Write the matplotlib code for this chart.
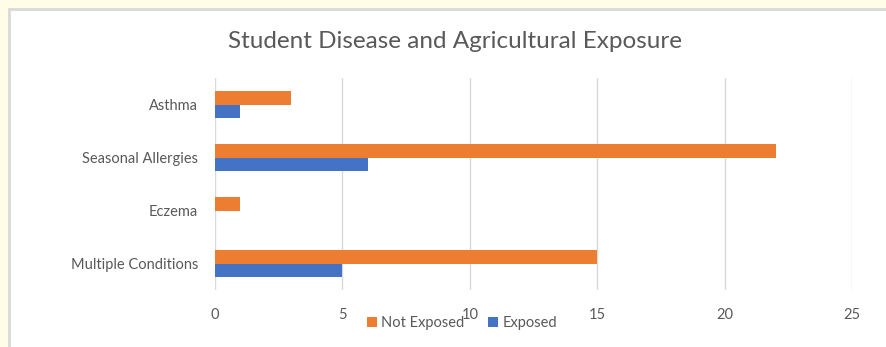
import matplotlib
matplotlib.use("Agg")
import matplotlib.pyplot as plt
import numpy as np
from matplotlib.patches import Rectangle

categories = ["Asthma", "Seasonal Allergies", "Eczema", "Multiple Conditions"]
not_exposed = [3, 22, 1, 15]
exposed = [1, 6, 0, 5]
series_names = ["Not Exposed", "Exposed"]
xticks = [0, 5, 10, 15, 20, 25]

plt.rcParams['font.family'] = ['Lato', 'DejaVu Sans']
txt = '#595959'
orange = '#ED7D31'
blue = '#4472C4'

fig = plt.figure(figsize=(8.87, 3.47), dpi=100)
fig.patch.set_facecolor('#FFFCE8')
# white chart area with light border
fig.patches.append(Rectangle((9/887, -0.05), 1.05, 1.05 - 9/347, transform=fig.transFigure,
                             facecolor='white', edgecolor='#D9D9D9', linewidth=2, zorder=-5))

ax = fig.add_axes([215/887, 57/347, 637/887, 212/347])
ax.set_zorder(2)
ax.set_facecolor('white')
y = np.arange(len(categories))
h = 0.255
ax.barh(y - h/2, not_exposed, height=h, color=orange, label=series_names[0], zorder=2)
ax.barh(y + h/2, exposed, height=h, color=blue, label=series_names[1], zorder=2)
ax.set_ylim(len(categories) - 0.5, -0.5)
ax.set_xlim(0, 25)
ax.set_xticks(xticks)
ax.set_yticks(y)
ax.set_yticklabels(categories)
ax.grid(axis='x', color='#D9D9D9', linewidth=1, zorder=0)
ax.set_axisbelow(True)
for s in ax.spines.values():
    s.set_visible(False)
ax.tick_params(axis='x', length=0, pad=13, labelsize=10.5, labelcolor=txt)
ax.tick_params(axis='y', length=0, pad=12, labelsize=10.5, labelcolor=txt)

fig.text(455/887, 1 - 42/347, "Student Disease and Agricultural Exposure",
         ha='center', va='center', fontsize=17.5, color=txt)

leg = fig.legend(loc='center', bbox_to_anchor=(462/887, 1 - 323/347), ncol=2,
                 frameon=False, fontsize=10.5, labelcolor=txt, handlelength=0.7,
                 handleheight=0.7, handletextpad=0.3, columnspacing=1.6)
leg.set_zorder(5)
fig.savefig("out.png", dpi=100, facecolor=fig.get_facecolor())
